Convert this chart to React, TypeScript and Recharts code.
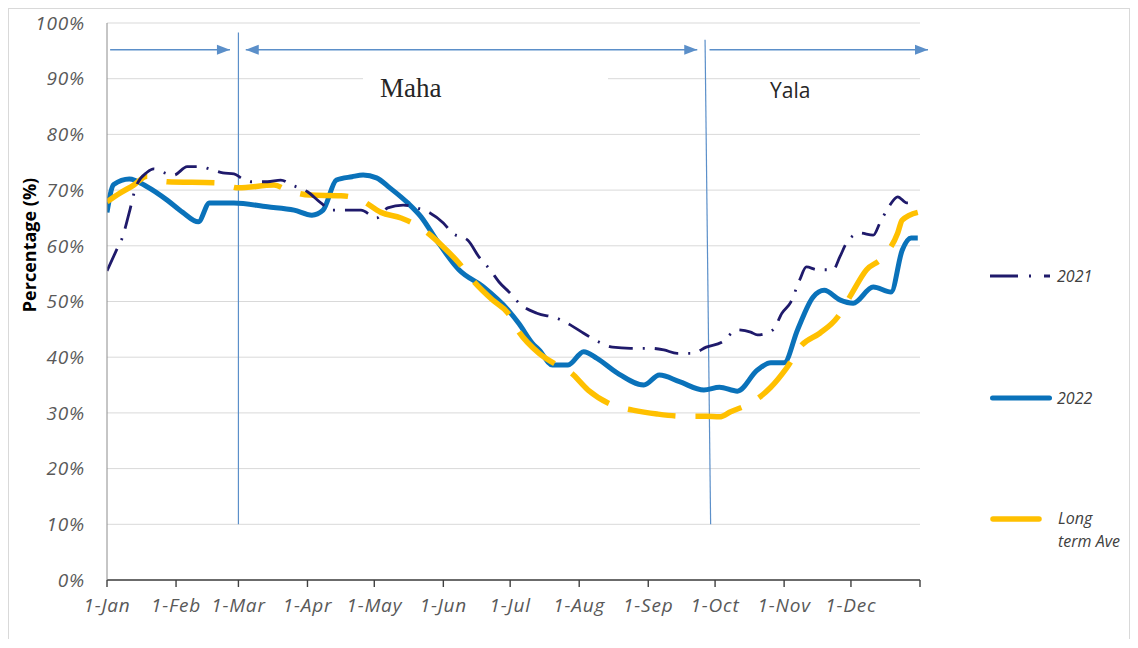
import { LineChart, Line, XAxis, YAxis, CartesianGrid, ReferenceLine } from "recharts";

// day of year (0 = 1-Jan) and percentage values
const days2021 = [0, 4, 7, 10, 13, 18, 21, 25, 30, 36, 42, 46, 52, 57, 61, 65, 72, 78, 83, 90, 96, 101, 114, 121, 126, 133, 139, 145, 151, 155, 162, 167, 172, 176, 181, 185, 193, 202, 208, 214, 221, 227, 235, 244, 250, 256, 263, 269, 276, 283, 289, 292, 299, 303, 307, 311, 314, 319, 326, 329, 332, 338, 344, 347, 351, 355, 359, 364];
const vals2021 = [55.5, 59, 61.6, 66, 70.6, 73.2, 73.8, 73.2, 72.7, 74.2, 74.2, 73.8, 73.1, 72.9, 72, 71.5, 71.5, 71.8, 70.9, 69.7, 67.7, 66.4, 66.4, 65, 66.8, 67.3, 66.8, 65.9, 64.1, 62.3, 61, 58, 55.7, 53.5, 51.5, 49.7, 47.9, 47, 45.8, 44.3, 42.7, 41.8, 41.6, 41.6, 41.3, 40.7, 40.7, 41.8, 42.7, 44.9, 44.5, 44, 44.9, 47.9, 49.9, 53.9, 56.2, 55.7, 55.7, 58, 60.5, 62.3, 61.9, 64.1, 67, 68.8, 67.7, 67.7];

const days2022 = [0, 3, 10, 18, 27, 34, 41, 46, 57, 72, 84, 92, 97, 103, 110, 115, 121, 127, 135, 141, 148, 158, 169, 180, 185, 191, 194, 200, 207, 214, 220, 229, 241, 248, 257, 268, 275, 283, 292, 298, 304, 310, 317, 322, 329, 335, 344, 352, 357, 361, 364];
const vals2022 = [66, 71, 72, 70.6, 68.2, 66, 64.3, 67.7, 67.7, 67, 66.4, 65.5, 66.4, 71.8, 72.4, 72.7, 72.2, 70.4, 67.7, 65.2, 61, 55.7, 52.6, 48.5, 46, 42.5, 41.3, 38.6, 38.6, 41, 39.8, 37.2, 35, 36.8, 35.6, 34.1, 34.6, 33.9, 37.7, 39, 39, 44.9, 50.8, 52, 50.3, 49.7, 52.6, 51.7, 59.2, 61.4, 61.4];

const daysLta = [0, 6, 12, 18, 27, 49, 59, 75, 81, 91, 105, 114, 123, 132, 141, 151, 158, 164, 173, 180, 185, 194, 202, 208, 216, 227, 236, 247, 259, 269, 275, 280, 290, 298, 305, 312, 320, 328, 334, 341, 348, 355, 357, 364];
const valsLta = [67.9, 69.5, 70.9, 72.5, 71.5, 71.3, 70.4, 70.9, 70, 69.1, 69, 68.2, 66, 65, 63.2, 59.8, 56.9, 53.9, 50.3, 47.9, 44.5, 40.7, 38.6, 37.3, 34.1, 31.4, 30.5, 29.8, 29.4, 29.4, 29.3, 30.2, 32, 34.6, 38, 42.2, 44.3, 47.2, 51.2, 55.7, 57.8, 62.3, 64.6, 66];

const monthTicks = [0, 31, 59, 90, 120, 151, 181, 212, 243, 273, 304, 334, 365];
const monthLabels = ["1-Jan", "1-Feb", "1-Mar", "1-Apr", "1-May", "1-Jun", "1-Jul", "1-Aug", "1-Sep", "1-Oct", "1-Nov", "1-Dec", ""];
const yTicks = [0, 10, 20, 30, 40, 50, 60, 70, 80, 90, 100];

// season dividers and arrows (data coords)
const dividers = [
  { x1: 59, y1: 98.3, x2: 59, y2: 10 },
  { x1: 268.5, y1: 97, x2: 271, y2: 10 },
];
const arrowY = 95.2;
const arrows = [
  { from: 1.4, to: 55.2, heads: "end" },
  { from: 62.3, to: 265, heads: "both" },
  { from: 270.5, to: 368.6, heads: "end" },
];

const C = {
  navy: "#1F1A6B",
  blue: "#0A72BA",
  gold: "#FFC000",
  accent: "#5B8FC9",
  grid: "#D9D9D9",
  tick: "#595959",
};

const toRows = (d: number[], v: number[]) => d.map((day, i) => ({ day, value: v[i] }));

const head = (x: number, y: number, dir: number) => (
  <polygon points={`${x},${y} ${x - dir * 13},${y - 5} ${x - dir * 13},${y + 5}`} fill={C.accent} />
);

const arrowShape = (heads: string) => (p: any) => {
  const { x1, y1, x2, y2 } = p;
  return (
    <g>
      <line x1={x1} y1={y1} x2={x2} y2={y2} stroke={C.accent} strokeWidth={1.3} />
      {head(x2, y2, 1)}
      {heads === "both" ? head(x1, y1, -1) : null}
    </g>
  );
};

const tickFont = { fill: C.tick, fontSize: 19, fontStyle: "italic", fontFamily: "Open Sans", letterSpacing: 0.8 };

export default function App() {
  return (
    <div
      style={{
        position: "relative",
        width: 1120,
        height: 630,
        borderTop: "1px solid #D9D9D9",
        borderLeft: "1px solid #D9D9D9",
        borderRight: "1px solid #D9D9D9",
        background: "#fff",
      }}
    >
      <LineChart width={1120} height={620} margin={{ top: 14, right: 209, left: 0, bottom: 9 }}>
        <CartesianGrid stroke={C.grid} vertical={false} />
        <XAxis
          type="number"
          dataKey="day"
          domain={[0, 365]}
          ticks={monthTicks}
          interval={0}
          allowDataOverflow
          tickFormatter={(v) => monthLabels[monthTicks.indexOf(v)]}
          axisLine={{ stroke: "#404040", strokeWidth: 1.4 }}
          tickLine={{ stroke: "#404040", strokeWidth: 1.4 }}
          tickSize={7}
          tickMargin={12}
          height={40}
          tick={tickFont}
        />
        <YAxis
          type="number"
          domain={[0, 100]}
          ticks={yTicks}
          interval={0}
          tickFormatter={(v) => `${v}%`}
          axisLine={{ stroke: "#8C8C8C" }}
          tickLine={false}
          tickSize={0}
          tickMargin={22}
          width={98}
          tick={tickFont}
        />
        {dividers.map((s, i) => (
          <ReferenceLine
            key={`d${i}`}
            segment={[{ x: s.x1, y: s.y1 }, { x: s.x2, y: s.y2 }]}
            stroke={C.accent}
            strokeWidth={1.2}
            ifOverflow="visible"
          />
        ))}
        {arrows.map((a, i) => (
          <ReferenceLine
            key={`a${i}`}
            segment={[{ x: a.from, y: arrowY }, { x: a.to, y: arrowY }]}
            ifOverflow="visible"
            shape={arrowShape(a.heads)}
          />
        ))}
        <Line
          data={toRows(days2022, vals2022)}
          dataKey="value"
          name="2022"
          type="monotone"
          stroke={C.blue}
          strokeWidth={5}
          strokeLinejoin="round"
          dot={false}
          activeDot={false}
          isAnimationActive={false}
        />
        <Line
          data={toRows(daysLta, valsLta)}
          dataKey="value"
          name="Long term Ave"
          type="monotone"
          stroke={C.gold}
          strokeWidth={5.5}
          strokeDasharray="48 20"
          dot={false}
          activeDot={false}
          isAnimationActive={false}
        />
        <Line
          data={toRows(days2021, vals2021)}
          dataKey="value"
          name="2021"
          type="monotone"
          stroke={C.navy}
          strokeWidth={2.8}
          strokeDasharray="24 10 2 10"
          dot={false}
          activeDot={false}
          isAnimationActive={false}
        />
      </LineChart>

      {/* annotations + legend */}
      <svg width={1120} height={630} style={{ position: "absolute", left: 0, top: 0, pointerEvents: "none" }}>
        <rect x={354} y={57} width={245} height={44} fill="#fff" />
        <text x={371} y={88} fontFamily="Liberation Serif" fontSize={27} fill="#262626">Maha</text>
        <text x={761} y={89} fontFamily="Open Sans" fontSize={21} fill="#262626">Yala</text>

        <text
          x={20}
          y={236}
          transform="rotate(-90 20 236)"
          textAnchor="middle"
          dominantBaseline="central"
          fontFamily="Open Sans"
          fontWeight="bold"
          fontSize={18}
          fill="#000"
        >
          Percentage (%)
        </text>

        <line x1={981} y1={267} x2={1041} y2={267} stroke={C.navy} strokeWidth={3} strokeDasharray="28 11 2 13 6 100" />
        <text x={1048} y={273} fontFamily="Open Sans" fontStyle="italic" fontSize={16} fill="#404040">2021</text>

        <line x1={983.5} y1={389} x2={1040.5} y2={389} stroke={C.blue} strokeWidth={5} strokeLinecap="round" />
        <text x={1048} y={395} fontFamily="Open Sans" fontStyle="italic" fontSize={16} fill="#404040">2022</text>

        <line x1={984} y1={510} x2={1030} y2={510} stroke={C.gold} strokeWidth={5.5} strokeLinecap="round" />
        <text x={1049} y={515} fontFamily="Open Sans" fontStyle="italic" fontSize={16} fill="#404040">Long</text>
        <text x={1049} y={538} fontFamily="Open Sans" fontStyle="italic" fontSize={16} fill="#404040">term Ave</text>
      </svg>
    </div>
  );
}
